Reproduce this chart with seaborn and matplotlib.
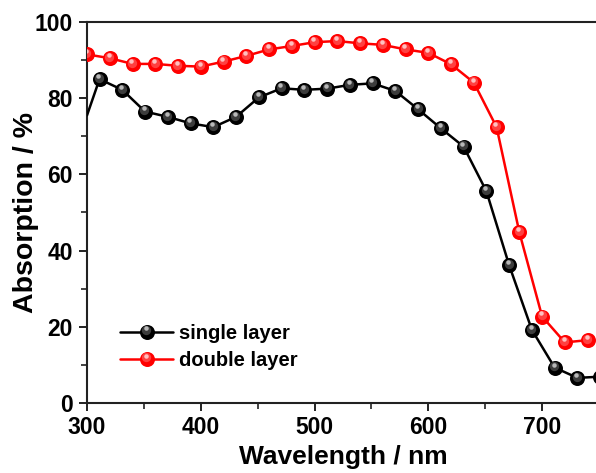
import numpy as np
import pandas as pd
import matplotlib
matplotlib.use("Agg")
import matplotlib.pyplot as plt
import matplotlib.transforms as mtransforms
from matplotlib.legend_handler import HandlerLine2D
from matplotlib.lines import Line2D
from matplotlib.ticker import MultipleLocator
import seaborn as sns

# Absorption spectra (wavelength in nm, absorption in %)
single_wavelength = [300, 311, 331, 351, 371, 391, 411, 431, 451, 471, 491, 511,
                     531, 551, 571, 591, 611, 631, 651, 671, 691, 711, 731, 751]
single_absorption = [75.5, 85.0, 82.2, 76.5, 75.1, 73.4, 72.4, 75.1, 80.2, 82.6, 82.2, 82.5,
                     83.5, 83.9, 81.9, 77.1, 72.1, 67.3, 55.6, 36.2, 19.2, 9.3, 6.6, 6.9]

double_wavelength = [300, 320, 340, 360, 380, 400, 420, 440, 460, 480, 500, 520,
                     540, 560, 580, 600, 620, 640, 660, 680, 700, 720, 740]
double_absorption = [91.5, 90.5, 89.0, 89.0, 88.5, 88.3, 89.6, 91.1, 92.8, 93.7, 94.7, 95.0,
                     94.4, 94.0, 92.8, 91.9, 88.9, 84.1, 72.4, 44.8, 22.7, 15.9, 16.5]

series_names = ["single layer", "double layer"]
series_colors = {"single layer": "#000000", "double layer": "#ff0000"}
highlight_colors = {"single layer": "#b8b8b8", "double layer": "#ffc0c0"}
mid_colors = {"single layer": "#3c3c3c", "double layer": "#ff4040"}

df = pd.concat([
    pd.DataFrame({"Wavelength": single_wavelength, "Absorption": single_absorption,
                  "Sample": "single layer"}),
    pd.DataFrame({"Wavelength": double_wavelength, "Absorption": double_absorption,
                  "Sample": "double layer"}),
], ignore_index=True)

sns.set_style("ticks")
plt.rcParams["font.family"] = ["Liberation Sans", "DejaVu Sans"]
plt.rcParams["font.weight"] = "bold"
plt.rcParams["text.color"] = "black"
plt.rcParams["axes.labelcolor"] = "black"
plt.rcParams["xtick.color"] = "black"
plt.rcParams["ytick.color"] = "black"

fig = plt.figure(figsize=(5.96, 4.73), dpi=100)
ax = fig.add_axes([87 / 596, 70 / 473, 512 / 596, 381 / 473])

MS = 10.8  # marker diameter in points
LW = 1.8
for name in series_names:
    sub = df[df["Sample"] == name]
    # the single-layer curve starts before its first marked point
    every = slice(1, None) if name == "single layer" else slice(0, None)
    sns.lineplot(data=sub, x="Wavelength", y="Absorption", ax=ax,
                 color=series_colors[name], lw=LW, marker="o", markersize=MS,
                 markeredgewidth=0, markevery=every, sort=False, legend=False,
                 zorder=3)
    xs = sub["Wavelength"].to_numpy()[every]
    ys = sub["Absorption"].to_numpy()[every]
    # shading that gives each marker a glossy sphere look
    t_mid = mtransforms.offset_copy(ax.transData, fig=fig, x=-0.4, y=0.9, units="points")
    ax.plot(xs, ys, ls="none", marker="o", ms=MS * 0.62, mew=0,
            color=mid_colors[name], transform=t_mid, zorder=4)
    t_hl = mtransforms.offset_copy(ax.transData, fig=fig, x=-0.8, y=2.2, units="points")
    ax.plot(xs, ys, ls="none", marker="o", ms=MS * 0.3, mew=0,
            color=highlight_colors[name], transform=t_hl, zorder=5)

ax.set_xlim(300, 750)
ax.set_ylim(0, 100)
ax.xaxis.set_major_locator(MultipleLocator(100))
ax.xaxis.set_minor_locator(MultipleLocator(50))
ax.yaxis.set_major_locator(MultipleLocator(20))
ax.yaxis.set_minor_locator(MultipleLocator(10))

for side in ["left", "bottom", "top", "right"]:
    ax.spines[side].set_linewidth(1.5)
    ax.spines[side].set_color("#222222")

ax.tick_params(axis="x", which="major", pad=3)
ax.tick_params(axis="y", which="major", pad=4)
ax.tick_params(axis="both", which="major", direction="out", length=6, width=1.4,
               labelsize=16.5, color="#222222", labelcolor="black")
ax.tick_params(axis="both", which="minor", direction="out", length=4, width=1.2,
               color="#222222")
ax.tick_params(top=False, right=False, which="both")
for lab in ax.get_xticklabels() + ax.get_yticklabels():
    lab.set_fontweight("bold")

ax.set_xlabel("Wavelength / nm", fontsize=19, fontweight="bold", labelpad=5,
              color="black")
ax.set_ylabel("Absorption / %", fontsize=20.5, fontweight="bold", labelpad=-3,
              color="black")


class SphereHandler(HandlerLine2D):
    """Legend entry: line with a glossy sphere marker."""

    def __init__(self, mid, hl, **kw):
        super().__init__(**kw)
        self.mid = mid
        self.hl = hl

    def create_artists(self, legend, orig_handle, xdescent, ydescent, width, height,
                       fontsize, trans):
        arts = super().create_artists(legend, orig_handle, xdescent, ydescent, width,
                                      height, fontsize, trans)
        cx = width / 2 - xdescent
        cy = height / 2 - ydescent
        m = Line2D([cx - 0.4], [cy + 0.9], ls="none", marker="o", ms=MS * 0.62, mew=0,
                   color=self.mid, transform=trans)
        h = Line2D([cx - 0.8], [cy + 2.2], ls="none", marker="o", ms=MS * 0.3, mew=0,
                   color=self.hl, transform=trans)
        return arts + [m, h]


handles, handler_map = [], {}
for name in series_names:
    hd = Line2D([], [], color=series_colors[name], lw=LW, marker="o", ms=MS, mew=0)
    handles.append(hd)
    handler_map[hd] = SphereHandler(mid_colors[name], highlight_colors[name],
                                    numpoints=1)

ax.legend(handles, series_names, handler_map=handler_map, loc="lower left",
          bbox_to_anchor=(0.03, 0.04), frameon=False,
          handlelength=2.6, handletextpad=0.3, labelspacing=0.4,
          prop={"weight": "bold", "size": 14.5})

fig.savefig("out.png", dpi=100)
